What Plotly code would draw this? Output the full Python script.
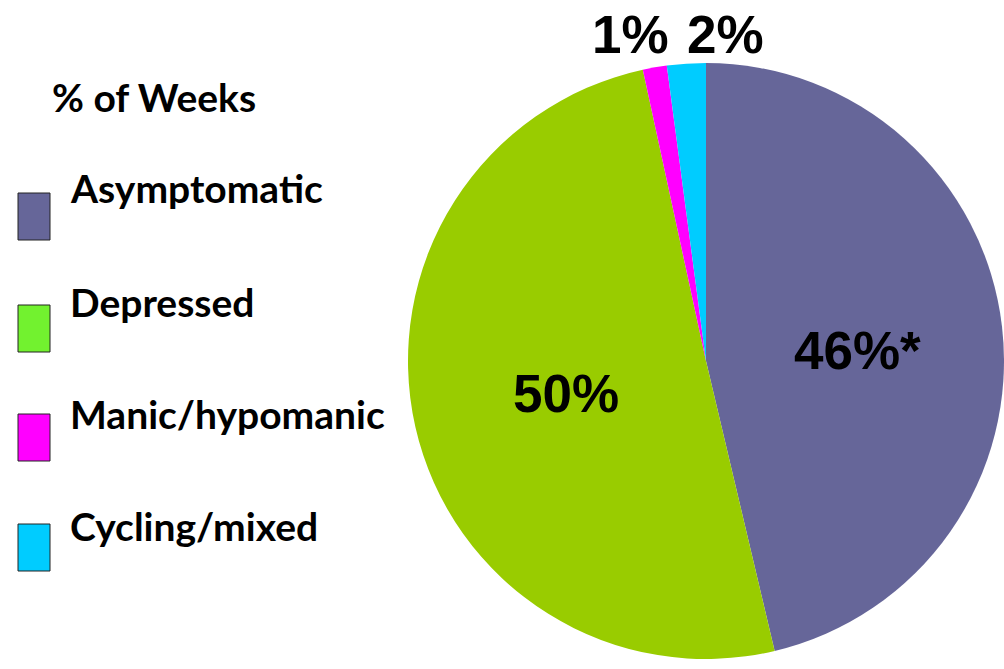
import plotly.graph_objects as go

categories = ["Asymptomatic", "Depressed", "Manic/hypomanic", "Cycling/mixed"]
values = [46.3, 50.3, 1.3, 2.1]
slice_labels = ["46%*", "50%", "1%", "2%"]
pie_colors = ["#666699", "#99CC00", "#FF00FF", "#00CCFF"]
legend_colors = ["#666699", "#72F22F", "#FF00FF", "#00CCFF"]
legend_title = "% of Weeks"

W, H = 1004, 669
cx, cy, r = 706, 361, 298  # pixel center and radius

fig = go.Figure()
fig.add_trace(go.Pie(
    labels=categories, values=values, sort=False, direction="clockwise",
    rotation=0, marker=dict(colors=pie_colors, line=dict(width=0)),
    textinfo="none", hoverinfo="label+percent", showlegend=False,
    domain=dict(x=[(cx - r) / W, min(1.0, (cx + r) / W)],
                y=[(H - cy - r) / H, (H - cy + r) / H]),
))

lab_font = dict(family="Liberation Sans, Arial", size=53, color="black")
label_pos = [(857, 350), (566, 393), (630, 35), (725, 35)]
for txt, (x, y) in zip(slice_labels, label_pos):
    fig.add_annotation(x=x / W, y=1 - y / H, xref="paper", yref="paper",
                       text="<b>" + txt + "</b>", showarrow=False,
                       font=lab_font, xanchor="center", yanchor="middle")

leg_font = dict(family="Lato, Carlito, sans-serif", size=39, color="black")
fig.add_annotation(x=50 / W, y=1 - 97 / H, xref="paper", yref="paper",
                   text="<b>" + legend_title + "</b>", showarrow=False,
                   font=leg_font, xanchor="left", yanchor="middle")

box_tops = [193, 305, 414, 524]
text_y = [188, 302, 414, 526]
for name, col, top, ty in zip(categories, legend_colors, box_tops, text_y):
    fig.add_shape(type="rect", xref="paper", yref="paper",
                  x0=18 / W, x1=50 / W, y0=1 - top / H, y1=1 - (top + 47) / H,
                  fillcolor=col, line=dict(color="#222222", width=1))
    fig.add_annotation(x=68 / W, y=1 - ty / H, xref="paper", yref="paper",
                       text="<b>" + name + "</b>", showarrow=False,
                       font=leg_font, xanchor="left", yanchor="middle")

fig.update_layout(width=W, height=H, margin=dict(l=0, r=0, t=0, b=0),
                  paper_bgcolor="white", plot_bgcolor="white")
fig.write_html("out.html", config={"displayModeBar": False},
               post_script="document.body.style.margin='0px';")
